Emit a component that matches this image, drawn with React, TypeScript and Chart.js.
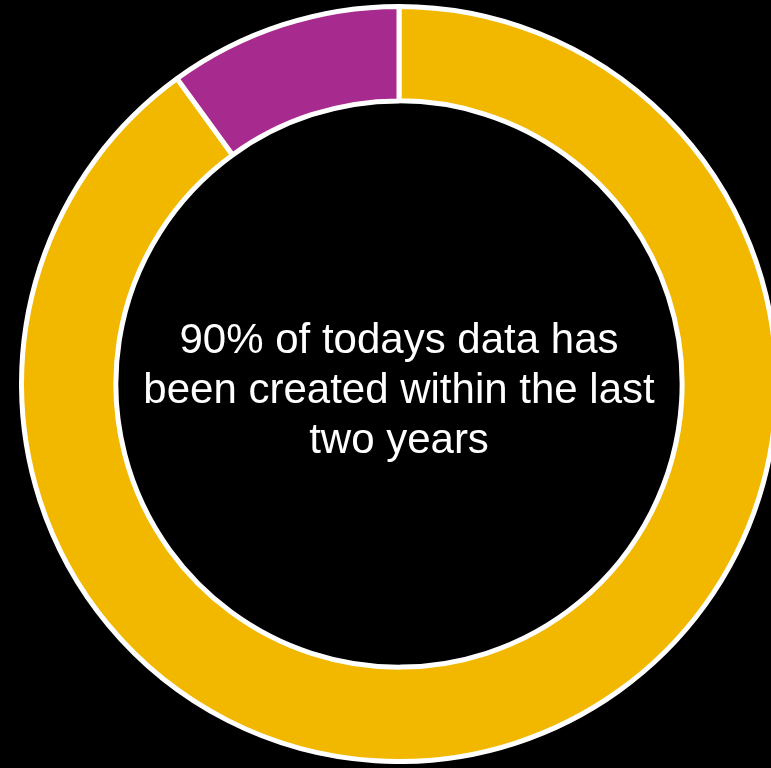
import React, { useEffect, useRef } from "react";
import { Chart, registerables } from "chart.js";

Chart.register(...registerables);

const labels = ["Created in the last two years", "Older data"];
const values = [90, 10];
const colors = ["#F2B800", "#A72A8F"];
const centerLines = ["90% of todays data has", "been created within the last", "two years"];

const centerTextPlugin = {
  id: "centerText",
  afterDraw(chart: any) {
    const meta = chart.getDatasetMeta(0);
    if (!meta || !meta.data.length) return;
    const { x, y } = meta.data[0];
    const ctx = chart.ctx;
    ctx.save();
    ctx.fillStyle = "#FFFFFF";
    ctx.font = '42px "Liberation Sans", Arial, sans-serif';
    ctx.textAlign = "center";
    ctx.textBaseline = "middle";
    const lh = 50;
    const n = centerLines.length;
    centerLines.forEach((line, i) => {
      ctx.fillText(line, x, y + 7 + (i - (n - 1) / 2) * lh);
    });
    ctx.restore();
  },
};

export default function App() {
  const ref = useRef<HTMLCanvasElement | null>(null);
  useEffect(() => {
    if (!ref.current) return;
    const chart = new Chart(ref.current, {
      type: "doughnut",
      data: {
        labels,
        datasets: [
          {
            data: values,
            backgroundColor: colors,
            borderColor: "#FFFFFF",
            borderWidth: 5,
          },
        ],
      },
      options: {
        responsive: false,
        animation: false,
        cutout: "75%",
        layout: { padding: 0 },
        plugins: {
          legend: { display: false },
          tooltip: { enabled: false },
        },
      },
      plugins: [centerTextPlugin],
    });
    return () => chart.destroy();
  }, []);
  return (
    <div style={{ position: "fixed", inset: 0, background: "#000", overflow: "hidden" }}>
      <div style={{ position: "absolute", left: 19, top: 4, width: 760, height: 760 }}>
        <canvas ref={ref} width={760} height={760} style={{ display: "block" }} />
      </div>
    </div>
  );
}
